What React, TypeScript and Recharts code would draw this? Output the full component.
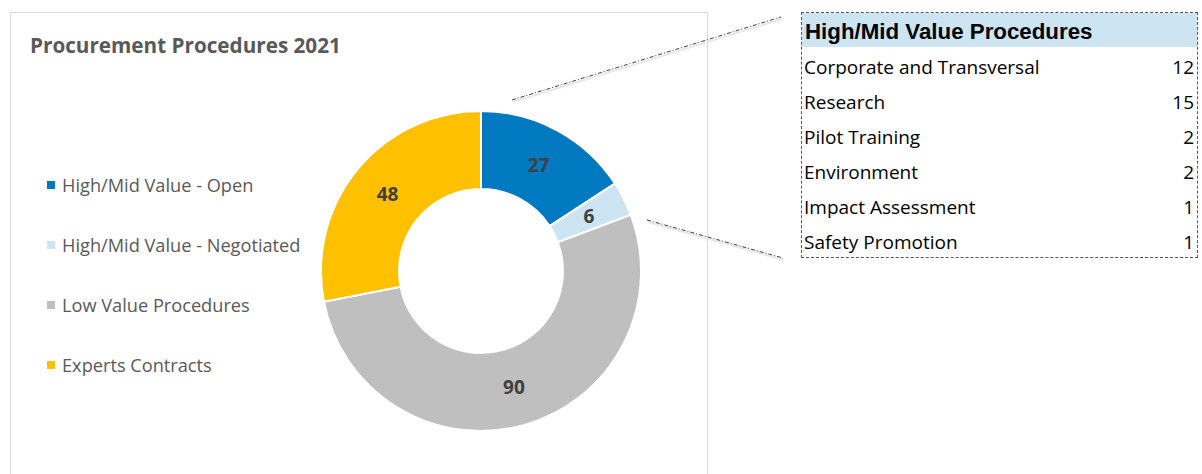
import { PieChart, Pie, Cell } from "recharts"

const categories = [
  "High/Mid Value - Open",
  "High/Mid Value - Negotiated",
  "Low Value Procedures",
  "Experts Contracts",
]
const counts = [27, 6, 90, 48]
const sliceColors = ["#0079c1", "#cde4f2", "#bfbfbf", "#ffc000"]

const breakdownTitle = "High/Mid Value Procedures"
const breakdownNames = [
  "Corporate and Transversal",
  "Research",
  "Pilot Training",
  "Environment",
  "Impact Assessment",
  "Safety Promotion",
]
const breakdownCounts = [12, 15, 2, 2, 1, 1]

const data = categories.map((name, i) => ({ name, value: counts[i] }))

const RAD = Math.PI / 180

function SliceLabel(props: any) {
  const { cx, cy, midAngle, innerRadius, outerRadius, value } = props
  const r = (innerRadius + outerRadius) / 2
  const x = cx + r * Math.cos(-midAngle * RAD)
  const y = cy + r * Math.sin(-midAngle * RAD)
  return (
    <text
      x={x}
      y={y}
      textAnchor="middle"
      dominantBaseline="central"
      fill="#404040"
      fontSize={19}
      fontWeight="bold"
      fontFamily="'Open Sans', sans-serif"
    >
      {value}
    </text>
  )
}

export default function App() {
  return (
    <div
      style={{
        position: "fixed",
        left: 0,
        top: 0,
        width: 1202,
        height: 474,
        background: "#fff",
        fontFamily: "'Open Sans', sans-serif",
        overflow: "hidden",
      }}
    >
      {/* chart frame */}
      <div
        style={{
          position: "absolute",
          left: 10,
          top: 12,
          width: 698,
          height: 480,
          border: "1px solid #d9d9d9",
          boxSizing: "border-box",
        }}
      />
      <div
        style={{
          position: "absolute",
          left: 30,
          top: 30,
          fontSize: 20.7,
          lineHeight: "30px",
          fontWeight: "bold",
          color: "#595959",
        }}
      >
        Procurement Procedures 2021
      </div>

      {/* legend */}
      <div style={{ position: "absolute", left: 47, top: 155 }}>
        {categories.map((c, i) => (
          <div
            key={c}
            style={{ display: "flex", alignItems: "center", height: 60, color: "#595959", fontSize: 18.2 }}
          >
            <span style={{ width: 8, height: 8, background: sliceColors[i], marginRight: 7 }} />
            <span>{c}</span>
          </div>
        ))}
      </div>

      <div style={{ position: "absolute", left: 0, top: 0 }}>
        <PieChart width={720} height={474} margin={{ top: 0, right: 0, bottom: 0, left: 0 }}>
          <Pie
            data={data}
            dataKey="value"
            nameKey="name"
            cx={481}
            cy={271}
            innerRadius={82}
            outerRadius={160}
            startAngle={90}
            endAngle={-270}
            stroke="#ffffff"
            strokeWidth={2}
            label={SliceLabel}
            labelLine={false}
            isAnimationActive={false}
          >
            {data.map((d, i) => (
              <Cell key={d.name} fill={sliceColors[i]} />
            ))}
          </Pie>
        </PieChart>
      </div>

      {/* connector lines */}
      <svg width={1202} height={474} style={{ position: "absolute", left: 0, top: 0, pointerEvents: "none" }}>
        <line x1={512} y1={100} x2={781} y2={17} stroke="#e8e8e8" strokeWidth={2} transform="translate(1,2)" />
        <line x1={647} y1={220} x2={783} y2={258} stroke="#e8e8e8" strokeWidth={2} transform="translate(1,2)" />
        <line x1={512} y1={100} x2={781} y2={17} stroke="#404040" strokeWidth={1} strokeDasharray="4 2 1 2" />
        <line x1={647} y1={220} x2={783} y2={258} stroke="#404040" strokeWidth={1} strokeDasharray="4 2 1 2" />
      </svg>

      {/* breakdown table */}
      <div
        style={{
          position: "absolute",
          left: 801,
          top: 12,
          width: 397,
          height: 246,
          border: "1px dashed #555",
          boxSizing: "border-box",
          color: "#000",
        }}
      >
        <div
          style={{
            height: 34,
            background: "#cde4f2",
            fontFamily: "'Liberation Sans', Arial, sans-serif",
            fontWeight: "bold",
            fontSize: 22.3,
            lineHeight: "37px",
            paddingLeft: 3,
            whiteSpace: "nowrap",
          }}
        >
          {breakdownTitle}
        </div>
        {breakdownNames.map((n, i) => (
          <div
            key={n}
            style={{
              height: 35,
              display: "flex",
              alignItems: "center",
              justifyContent: "space-between",
              paddingLeft: 2,
              paddingRight: 3,
              paddingTop: 5,
              boxSizing: "border-box",
              fontSize: 19,
              whiteSpace: "nowrap",
            }}
          >
            <span>{n}</span>
            <span>{breakdownCounts[i]}</span>
          </div>
        ))}
      </div>
    </div>
  )
}
